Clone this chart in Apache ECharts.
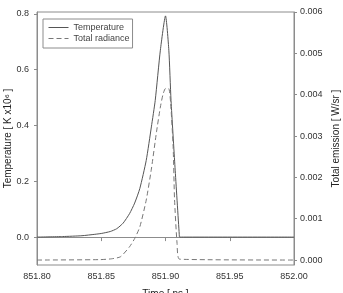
<!DOCTYPE html>
<html><head><meta charset="utf-8">
<script src="https://cdn.jsdelivr.net/npm/echarts@6/dist/echarts.min.js"></script>
<style>html,body{margin:0;padding:0;background:#fff}#c{width:343px;height:293px}</style>
</head><body><div id="c"></div>
<script>
const tempTimes = [851.800, 851.820, 851.835, 851.845, 851.850, 851.857, 851.862, 851.867, 851.872, 851.876, 851.880, 851.885, 851.889, 851.892, 851.896, 851.900, 851.9026, 851.9043, 851.9074, 851.9107, 851.911, 852.000];
const tempValues = [0, 0.002, 0.005, 0.010, 0.013, 0.020, 0.030, 0.050, 0.084, 0.122, 0.174, 0.275, 0.395, 0.49, 0.67, 0.793, 0.67, 0.49, 0.25, 0.01, 0.0, 0.0];
const radTimes = [851.800, 851.849, 851.858, 851.865, 851.872, 851.876, 851.880, 851.885, 851.889, 851.893, 851.896, 851.898, 851.900, 851.9025, 851.904, 851.906, 851.907, 851.909, 851.911, 852.000];
const radValues = [0, 0.00001, 0.00003, 0.00008, 0.00032, 0.00052, 0.0008, 0.00145, 0.0022, 0.0031, 0.0037, 0.0040, 0.00415, 0.00415, 0.0038, 0.0027, 0.0015, 0.0004, 0.00002, 0];
const xTicks = [851.80, 851.85, 851.90, 851.95, 852.00];
const leftTicks = [0.0, 0.2, 0.4, 0.6, 0.8];
const rightTicks = [0.000, 0.001, 0.002, 0.003, 0.004, 0.005, 0.006];
const seriesNames = ['Temperature', 'Total radiance'];

const axisColor = '#8c8c8c';
const font = 'Liberation Sans, Arial, sans-serif';
const chart = echarts.init(document.getElementById('c'));
chart.setOption({
  animation: false,
  backgroundColor: '#fff',
  grid: {left: 37, right: 49, top: 12, bottom: 28, show: true, borderColor: axisColor, borderWidth: 1, outerBoundsMode: 'none', containLabel: false},
  legend: {
    orient: 'vertical', left: 43, top: 19, padding: [4, 3, 5, 5], itemGap: 2,
    itemWidth: 20, itemHeight: 9, borderColor: axisColor, borderWidth: 1,
    itemStyle: {opacity: 0},
    lineStyle: {width: 1},
    textStyle: {fontFamily: font, fontSize: 9, color: '#444'},
    data: seriesNames
  },
  xAxis: {
    type: 'value', min: 851.80, max: 852.00,
    name: 'Time [ ns ]', nameLocation: 'middle', nameGap: 29, nameMoveOverlap: false,
    nameTextStyle: {fontFamily: font, fontSize: 10, color: '#222', verticalAlign: 'middle'},
    axisLine: {lineStyle: {color: axisColor}},
    axisTick: {customValues: xTicks, length: 4, lineStyle: {color: axisColor}},
    axisLabel: {customValues: xTicks, formatter: v => v.toFixed(2), fontFamily: font, fontSize: 9, color: '#333', margin: 7},
    splitLine: {show: false}
  },
  yAxis: [{
    type: 'value', min: -0.1, max: 0.807, position: 'left',
    name: 'Temperature [ K x10\u2076 ]', nameLocation: 'middle', nameGap: 29, nameMoveOverlap: false,
    nameTextStyle: {fontFamily: font, fontSize: 10, color: '#222', verticalAlign: 'middle'},
    axisLine: {show: true, lineStyle: {color: axisColor}},
    axisTick: {show: true, customValues: leftTicks, length: 3, lineStyle: {color: axisColor}},
    axisLabel: {customValues: leftTicks, formatter: v => v.toFixed(1), fontFamily: font, fontSize: 9, color: '#333', margin: 8},
    splitLine: {show: false}
  }, {
    type: 'value', min: -0.00012, max: 0.006, position: 'right',
    name: 'Total emission [ W/sr ]', nameLocation: 'middle', nameGap: 42, nameRotate: 90, nameMoveOverlap: false,
    nameTextStyle: {fontFamily: font, fontSize: 10, color: '#222', verticalAlign: 'middle', align: 'center'},
    axisLine: {show: true, lineStyle: {color: axisColor}},
    axisTick: {show: true, customValues: rightTicks, length: 3, lineStyle: {color: axisColor}},
    axisLabel: {customValues: rightTicks, formatter: v => v.toFixed(3), fontFamily: font, fontSize: 9, color: '#333', margin: 6},
    splitLine: {show: false}
  }],
  series: [{
    name: seriesNames[0], type: 'line', yAxisIndex: 0, showSymbol: false, symbol: 'none',
    smooth: 0.2,
    lineStyle: {color: '#555', width: 1, type: 'solid'}, itemStyle: {color: '#555'},
    data: tempTimes.map((t, i) => [t, tempValues[i]])
  }, {
    name: seriesNames[1], type: 'line', yAxisIndex: 1, showSymbol: false, symbol: 'none',
    smooth: 0.2,
    lineStyle: {color: '#777', width: 1, type: [5, 3]}, itemStyle: {color: '#777'},
    data: radTimes.map((t, i) => [t, radValues[i]])
  }]
});
</script></body></html>
